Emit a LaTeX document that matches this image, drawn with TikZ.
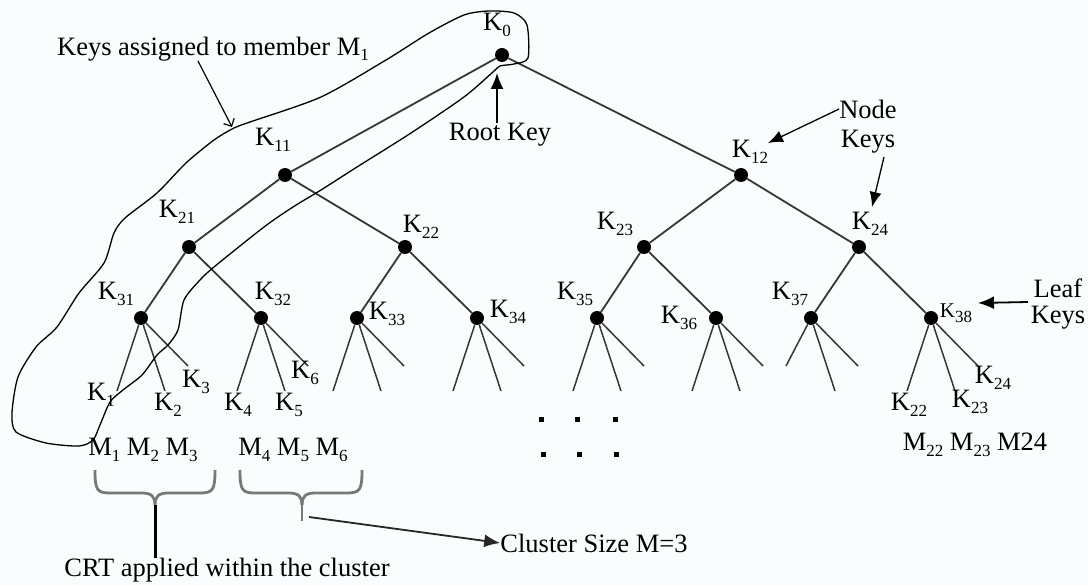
\documentclass[tikz,border=0pt]{standalone}
\usepackage{fontspec}
\setmainfont{Liberation Serif}
\usetikzlibrary{arrows.meta}
\newcommand\ks[1]{\raisebox{-5.5pt}{\fontsize{17}{17}\selectfont #1}}
\definecolor{bg}{RGB}{250,253,253}
\definecolor{edgecol}{RGB}{55,55,55}
\definecolor{bracecol}{RGB}{120,120,120}
\begin{document}
\begin{tikzpicture}[x=1pt,y=-1pt]
\tikzset{
 dot/.style={circle,fill=black,inner sep=0pt,minimum size=14pt},
 edge/.style={draw=edgecol,line width=1.8pt},
 leaf/.style={draw=edgecol,line width=1.5pt},
 lbl/.style={inner sep=0pt,font=\fontsize{26.5}{29}\selectfont},
 slbl/.style={inner sep=0pt,font=\fontsize{21}{23}\selectfont},
 loopline/.style={draw=black,line width=1.3pt},
 brace/.style={draw=bracecol,line width=2.8pt},
 arr/.style={draw=black,line width=1.8pt,-{Latex[length=16pt,width=13pt]}},
 thinarr/.style={draw=black,line width=1.3pt,-{Latex[length=15pt,width=12pt]}},
}
\fill[bg] (0,0) rectangle (1088,585);
\useasboundingbox (0,0) rectangle (1088,585);

% tree dots
\node[dot] (k0) at (502,55) {};
\node[dot] (k11) at (285,175) {};
\node[dot] (k12) at (741,175) {};
\node[dot] (k21) at (189,247) {};
\node[dot] (k22) at (405,247) {};
\node[dot] (k23) at (644,247) {};
\node[dot] (k24) at (859,247) {};
\foreach \n/\x in {k31/141,k32/261,k33/357,k34/477,k35/597,k36/716,k38/931}{
  \node[dot] (\n) at (\x,318) {};
  \coordinate (\n a) at (\x-24,391);
  \coordinate (\n b) at (\x+24,391);
  \coordinate (\n c) at (\x+47,366);
  \draw[leaf] (\n) -- (\n a) (\n) -- (\n b) (\n) -- (\n c);
}
\node[dot] (k37) at (811,318) {};
\coordinate (k37a) at (786,366);
\coordinate (k37b) at (835,391);
\coordinate (k37c) at (858,366);
\draw[leaf] (k37) -- (k37a) (k37) -- (k37b) (k37) -- (k37c);

% tree edges
\draw[edge] (k0) -- (k11) (k0) -- (k12)
  (k11) -- (k21) (k11) -- (k22) (k12) -- (k23) (k12) -- (k24)
  (k21) -- (k31) (k21) -- (k32) (k22) -- (k33) (k22) -- (k34)
  (k23) -- (k35) (k23) -- (k36) (k24) -- (k37) (k24) -- (k38);

% key labels
\node[lbl] (l0) at (497,25) {K\ks{0}};
\node[lbl] (l11) at (273,140) {K\ks{11}};
\node[lbl] (l12) at (750,152) {K\ks{12}};
\node[lbl] (l21) at (177,212) {K\ks{21}};
\node[lbl] (l22) at (421,227) {K\ks{22}};
\node[lbl] (l23) at (615,224) {K\ks{23}};
\node[lbl] (l24) at (870,224) {K\ks{24}};
\node[lbl] (l31) at (116,294) {K\ks{31}};
\node[lbl] (l32) at (273,294) {K\ks{32}};
\node[lbl] (l33) at (387,314) {K\ks{33}};
\node[lbl] (l34) at (508,312) {K\ks{34}};
\node[lbl] (l35) at (575,294) {K\ks{35}};
\node[lbl] (l36) at (679,318) {K\ks{36}};
\node[lbl] (l37) at (790,294) {K\ks{37}};
\node[slbl] (l38) at (956,313) {K\ks{38}};

% leaf labels
\node[lbl] (m1) at (101,395) {K\ks{1}};
\node[lbl] (m2) at (168,405) {K\ks{2}};
\node[lbl] (m3) at (196,382) {K\ks{3}};
\node[lbl] (m4) at (238,405) {K\ks{4}};
\node[lbl] (m5) at (289,405) {K\ks{5}};
\node[lbl] (m6) at (305,373) {K\ks{6}};
\node[lbl] (m22) at (909,405) {K\ks{22}};
\node[lbl] (m23) at (970,402) {K\ks{23}};
\node[lbl] (m24) at (993,378) {K\ks{24}};

% members
\node[lbl] (g1) at (143,450) {M\ks{1} M\ks{2} M\ks{3}};
\node[lbl] (g2) at (293,450) {M\ks{4} M\ks{5} M\ks{6}};
\node[lbl] (g3) at (975,445) {M\ks{22} M\ks{23} M24};

% ellipsis dots
\foreach \x/\y in {541/420,577/420,615/420,543/455,579/455,616/455}{
  \fill (\x-2.5,\y-2.5) rectangle (\x+2.5,\y+2.5);
}

% annotations
\node[lbl] (kam) at (213,49) {Keys assigned to member M\ks{1}};
\node[lbl] (rootkey) at (500,135) {Root Key};
\node[lbl] (nodew) at (868,109) {Node};
\node[lbl] (nkeysw) at (868,142) {Keys};
\node[lbl] (leafw) at (1058,288) {Leaf};
\node[lbl] (lkeysw) at (1058,318) {Keys};
\node[lbl] (crt) at (227,570) {CRT applied within the cluster};
\node[lbl] (clus) at (594,543) {Cluster Size M=3};

\coordinate (rktip) at (497,73);
\draw[arr] (rootkey.north -| rktip) -- (rktip);
\coordinate (nk1tip) at (768,143);
\draw[thinarr] (nodew.west) -- (nk1tip);
\coordinate (nk2tail) at (884,157);
\coordinate (nk2tip) at (872,207);
\draw[thinarr] (nk2tail) -- (nk2tip);
\coordinate (lftail) at (1028,302);
\coordinate (lftip) at (978,303);
\draw[arr] (lftail) -- (lftip);

% braces
\coordinate (b1c) at (155,505);
\draw[brace] (95,470) .. controls (95,490) and (97,493) .. (110,493) -- (142,493)
  .. controls (152,493) and (155,497) .. (b1c);
\draw[brace] (215,470) .. controls (215,490) and (213,493) .. (200,493) -- (168,493)
  .. controls (158,493) and (155,497) .. (b1c);
\draw[draw=black,line width=3pt] (b1c) -- (crt.north -| b1c);
\coordinate (b2c) at (302,505);
\draw[brace] (240,470) .. controls (240,490) and (242,493) .. (255,493) -- (289,493)
  .. controls (299,493) and (302,497) .. (b2c);
\draw[brace] (362,470) .. controls (362,490) and (360,493) .. (347,493) -- (315,493)
  .. controls (305,493) and (302,497) .. (b2c);
\coordinate (b2tail) at (302,521);
\draw[brace] (b2c) -- (b2tail);
\coordinate (clstart) at (309,517);
\draw[arr,draw=black!85] (clstart) -- (clus.west);

% loop around keys of M1
\draw[loopline] plot[smooth cycle, tension=0.45] coordinates {
 (234,128) (250,122) (321,97) (386,60) (429,33) (464,15) (489,11) (514,13)
 (527,25) (528,58) (514,64) (500,66) (493,72) (464,97) (411,133) (357,167)
 (321,190) (293,207) (264,227) (214,267) (200,280) (184,300) (178,330)
 (168,345) (157,355) (142,375) (123,390) (110,402) (100,425) (93,440)
 (79,446) (46,443) (16,432) (12,413) (18,377) (36,347) (57,327) (79,293)
 (104,263) (114,233) (125,218) (157,193) (186,163) (214,140)};
\coordinate (kamtail) at (198,61);
\coordinate (loopmark) at (232,127);
\draw[draw=black,line width=1.2pt,-{Straight Barb[length=6pt,width=12pt]}] (kamtail) -- (loopmark);
\end{tikzpicture}
\end{document}
